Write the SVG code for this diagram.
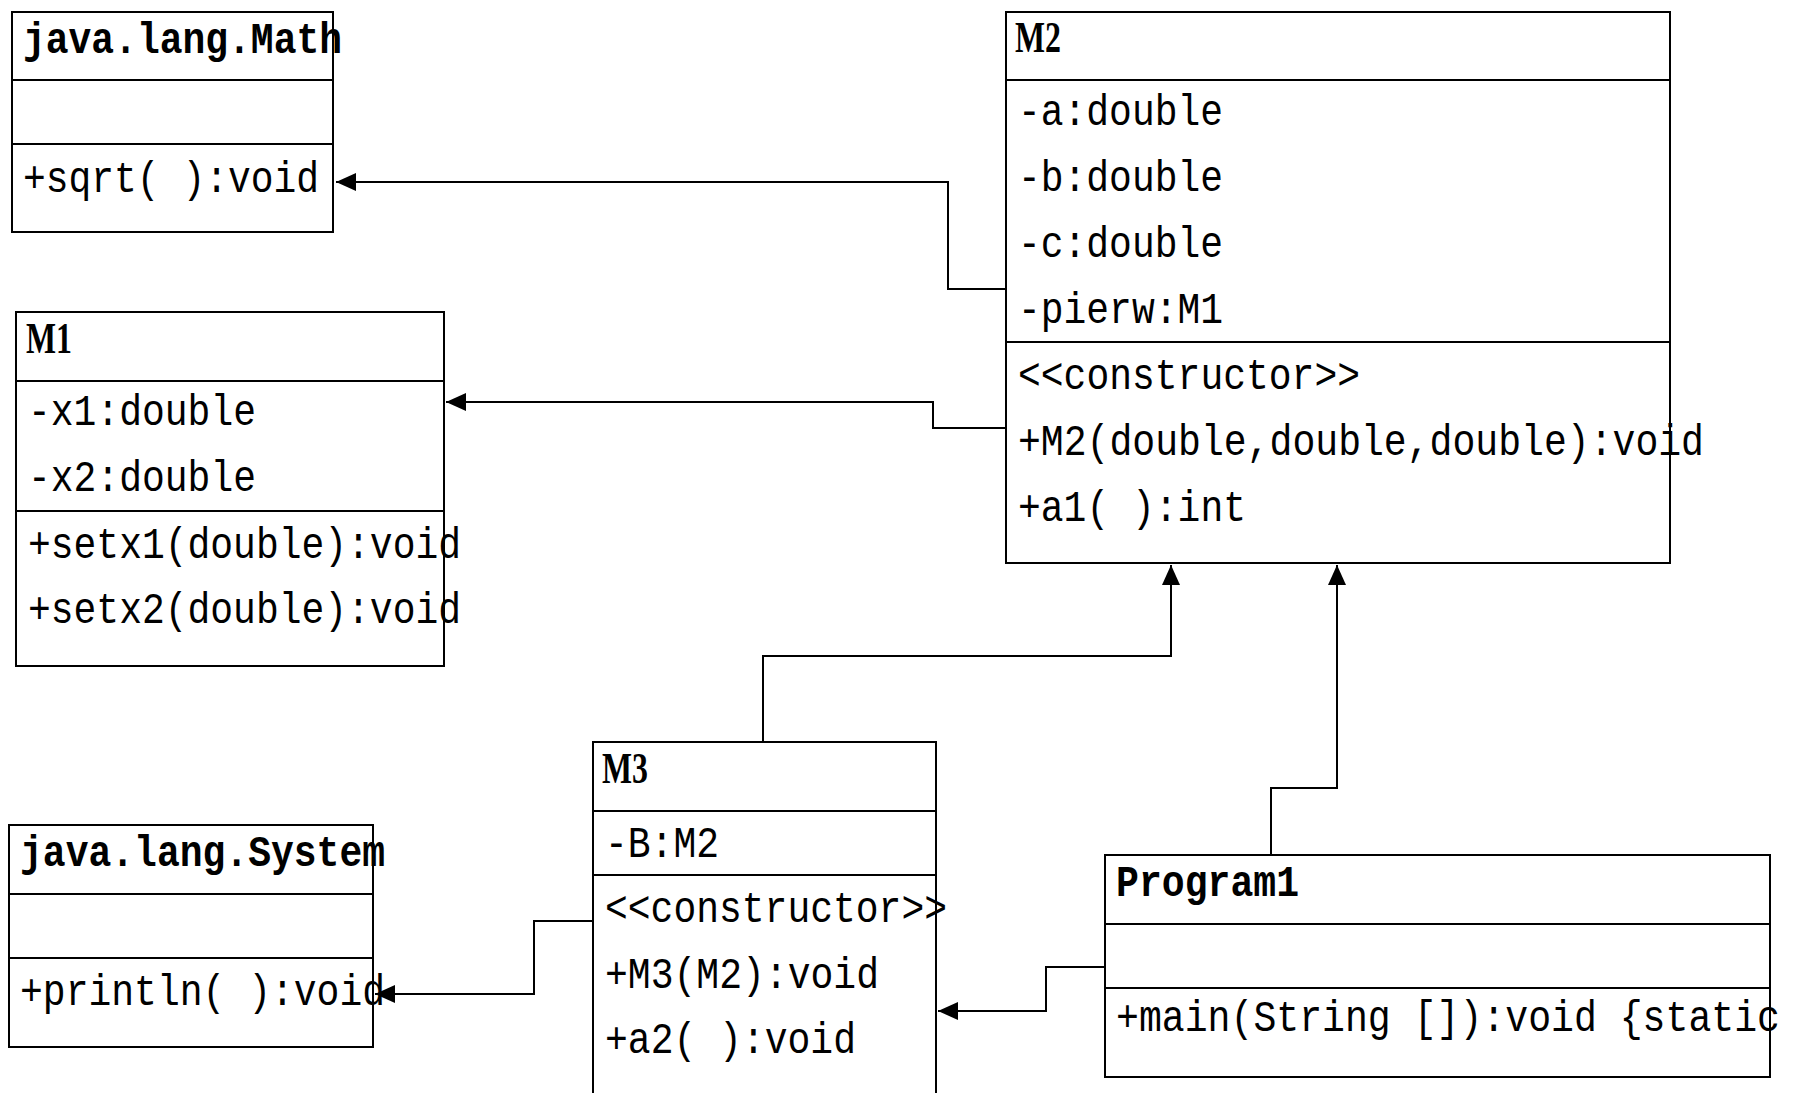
<svg xmlns="http://www.w3.org/2000/svg" width="1799" height="1093" viewBox="0 0 1799 1093">
<style>
.box{fill:none;stroke:#000;stroke-width:2}
.dv{stroke:#000;stroke-width:2}
.t{font-family:"Liberation Mono","Courier New",monospace;font-size:44px;fill:#000}
.h{font-weight:bold}
.s{font-family:"Liberation Serif","Times New Roman",serif;font-size:44px;font-weight:bold;fill:#000}
.c{fill:none;stroke:#000;stroke-width:2}
</style>
<defs>
<marker id="ar" markerUnits="userSpaceOnUse" markerWidth="22" markerHeight="20" refX="20" refY="9" orient="auto" viewBox="0 0 22 20">
<path d="M0,0 L20,9 L0,18 z" fill="#000"/>
</marker>
</defs>
<rect width="1799" height="1093" fill="#fff"/>

<g id="connectors">
<path class="c" d="M1006,289 H948 V182 H336" marker-end="url(#ar)"/>
<path class="c" d="M1006,428 H933 V402 H446" marker-end="url(#ar)"/>
<path class="c" d="M763,742 V656 H1171 V565" marker-end="url(#ar)"/>
<path class="c" d="M1271,855 V788 H1337 V565" marker-end="url(#ar)"/>
<path class="c" d="M1105,967 H1046 V1011 H938" marker-end="url(#ar)"/>
<path class="c" d="M592,921 H534 V994 H375" marker-end="url(#ar)"/>
</g>

<g id="java_lang_Math">
<text class="t h" x="23" y="53" textLength="319" lengthAdjust="spacingAndGlyphs">java.lang.Math</text>
<text class="t" x="23" y="192" textLength="296" lengthAdjust="spacingAndGlyphs">+sqrt( ):void</text>
<rect class="box" x="12" y="12" width="321" height="220"/>
<line class="dv" x1="12" y1="80" x2="333" y2="80"/>
<line class="dv" x1="12" y1="144" x2="333" y2="144"/>
</g>

<g id="M1">
<text class="s" x="26" y="353" textLength="46" lengthAdjust="spacingAndGlyphs">M1</text>
<text class="t" x="28" y="425" textLength="228" lengthAdjust="spacingAndGlyphs">-x1:double</text>
<text class="t" x="28" y="491" textLength="228" lengthAdjust="spacingAndGlyphs">-x2:double</text>
<text class="t" x="28" y="558" textLength="433" lengthAdjust="spacingAndGlyphs">+setx1(double):void</text>
<text class="t" x="28" y="623" textLength="433" lengthAdjust="spacingAndGlyphs">+setx2(double):void</text>
<rect class="box" x="16" y="312" width="428" height="354"/>
<line class="dv" x1="16" y1="381" x2="444" y2="381"/>
<line class="dv" x1="16" y1="511" x2="444" y2="511"/>
</g>

<g id="M2">
<text class="s" x="1015" y="52" textLength="46" lengthAdjust="spacingAndGlyphs">M2</text>
<text class="t" x="1018" y="125" textLength="205" lengthAdjust="spacingAndGlyphs">-a:double</text>
<text class="t" x="1018" y="191" textLength="205" lengthAdjust="spacingAndGlyphs">-b:double</text>
<text class="t" x="1018" y="257" textLength="205" lengthAdjust="spacingAndGlyphs">-c:double</text>
<text class="t" x="1018" y="323" textLength="205" lengthAdjust="spacingAndGlyphs">-pierw:M1</text>
<text class="t" x="1018" y="389" textLength="342" lengthAdjust="spacingAndGlyphs">&lt;&lt;constructor&gt;&gt;</text>
<text class="t" x="1018" y="455" textLength="686" lengthAdjust="spacingAndGlyphs">+M2(double,double,double):void</text>
<text class="t" x="1018" y="521" textLength="228" lengthAdjust="spacingAndGlyphs">+a1( ):int</text>
<rect class="box" x="1006" y="12" width="664" height="551"/>
<line class="dv" x1="1006" y1="80" x2="1670" y2="80"/>
<line class="dv" x1="1006" y1="342" x2="1670" y2="342"/>
</g>

<g id="M3">
<text class="s" x="602" y="783" textLength="46" lengthAdjust="spacingAndGlyphs">M3</text>
<text class="t" x="605" y="857" textLength="114" lengthAdjust="spacingAndGlyphs">-B:M2</text>
<text class="t" x="605" y="922" textLength="342" lengthAdjust="spacingAndGlyphs">&lt;&lt;constructor&gt;&gt;</text>
<text class="t" x="605" y="988" textLength="274" lengthAdjust="spacingAndGlyphs">+M3(M2):void</text>
<text class="t" x="605" y="1053" textLength="251" lengthAdjust="spacingAndGlyphs">+a2( ):void</text>
<rect class="box" x="593" y="742" width="343" height="380"/>
<line class="dv" x1="593" y1="811" x2="936" y2="811"/>
<line class="dv" x1="593" y1="875" x2="936" y2="875"/>
</g>

<g id="java_lang_System">
<text class="t h" x="20" y="866" textLength="365" lengthAdjust="spacingAndGlyphs">java.lang.System</text>
<text class="t" x="20" y="1005" textLength="365" lengthAdjust="spacingAndGlyphs">+println( ):void</text>
<rect class="box" x="9" y="825" width="364" height="222"/>
<line class="dv" x1="9" y1="894" x2="373" y2="894"/>
<line class="dv" x1="9" y1="958" x2="373" y2="958"/>
</g>

<g id="Program1">
<text class="t h" x="1116" y="896" textLength="183" lengthAdjust="spacingAndGlyphs">Program1</text>
<text class="t" x="1116" y="1031" textLength="664" lengthAdjust="spacingAndGlyphs">+main(String []):void {static</text>
<rect class="box" x="1105" y="855" width="665" height="222"/>
<line class="dv" x1="1105" y1="924" x2="1770" y2="924"/>
<line class="dv" x1="1105" y1="988" x2="1770" y2="988"/>
</g>
</svg>
